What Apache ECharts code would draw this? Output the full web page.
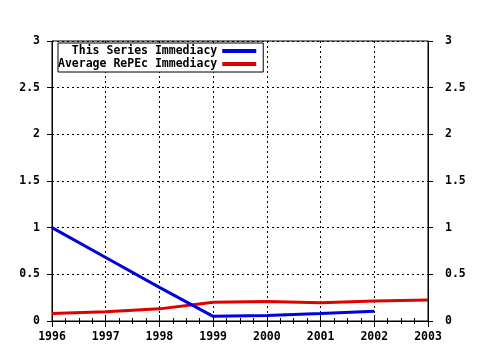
<!DOCTYPE html>
<html><head><meta charset="utf-8">
<script src="https://cdn.jsdelivr.net/npm/echarts@6/dist/echarts.min.js"></script>
<style>html,body{margin:0;padding:0;background:#fff}#c{width:480px;height:350px}</style>
</head><body><div id="c"></div>
<script>
const years = [1996, 1997, 1998, 1999, 2000, 2001, 2002, 2003];
const seriesValues = [1.0, 0.68, 0.36, 0.05, 0.06, 0.08, 0.105];
const repecValues = [0.08, 0.10, 0.13, 0.20, 0.21, 0.195, 0.215, 0.225];
const seriesNames = ['  This Series Immediacy', 'Average RePEc Immediacy'];
const yTicks = [0, 0.5, 1, 1.5, 2, 2.5, 3];

const font = {fontFamily: 'DejaVu Sans Mono', fontWeight: 'bold', fontSize: 11.5, color: '#000'};
const chart = echarts.init(document.getElementById('c'), null, {renderer: 'canvas'});
const fmtY = v => String(v);
chart.setOption({
  animation: false,
  backgroundColor: '#fff',
  grid: {left: 52, right: 52, top: 41, bottom: 29, show: true, borderColor: '#000', borderWidth: 1},
  legend: {
    left: 58, top: 43, orient: 'vertical', align: 'right',
    itemWidth: 34, itemHeight: 4, itemGap: 1, padding: [2, 7, 2, 0],
    borderColor: '#000', borderWidth: 1, backgroundColor: '#fff',
    textStyle: Object.assign({}, font, {padding: [0, 0, 0, 0]}),
    icon: 'rect',
    data: seriesNames
  },
  xAxis: [
    {type: 'value', position: 'bottom', min: years[0], max: years[years.length-1], interval: 1,
     axisLine: {show: true, lineStyle: {color: '#000'}},
     axisTick: {show: true, inside: true, length: 6, lineStyle: {color: '#000'}},
     minorTick: {show: true, splitNumber: 4, length: 3, lineStyle: {color: '#000'}},
     splitLine: {show: true, lineStyle: {color: '#000', type: [2, 3], width: 1}},
     axisLabel: Object.assign({}, font, {margin: 10, formatter: v => String(v)})},
    {type: 'value', position: 'top', min: years[0], max: years[years.length-1], interval: 1,
     axisLine: {show: true, lineStyle: {color: '#000'}},
     axisTick: {show: true, inside: true, length: 6, lineStyle: {color: '#000'}},
     minorTick: {show: true, splitNumber: 4, length: 3, lineStyle: {color: '#000'}},
     splitLine: {show: false}, axisLabel: {show: false}}
  ],
  yAxis: [
    {type: 'value', position: 'left', min: 0, max: 3, interval: 0.5,
     axisLine: {show: true, lineStyle: {color: '#000'}},
     axisTick: {show: true, length: 5, lineStyle: {color: '#000'}},
     splitLine: {show: true, lineStyle: {color: '#000', type: [2, 3], width: 1}},
     axisLabel: Object.assign({}, font, {margin: 12, formatter: fmtY})},
    {type: 'value', position: 'right', min: 0, max: 3, interval: 0.5,
     axisLine: {show: true, lineStyle: {color: '#000'}},
     axisTick: {show: true, length: 5, lineStyle: {color: '#000'}},
     splitLine: {show: false},
     axisLabel: Object.assign({}, font, {margin: 17, formatter: fmtY})}
  ],
  series: [
    {name: seriesNames[0], type: 'line', data: seriesValues.map((v, i) => [years[i], v]),
     showSymbol: false, symbol: 'none', lineStyle: {color: '#0000e0', width: 3}, itemStyle: {color: '#0000e0'}, z: 3},
    {name: seriesNames[1], type: 'line', data: repecValues.map((v, i) => [years[i], v]),
     showSymbol: false, symbol: 'none', lineStyle: {color: '#e00000', width: 3}, itemStyle: {color: '#e00000'}, z: 2}
  ]
});
</script></body></html>
